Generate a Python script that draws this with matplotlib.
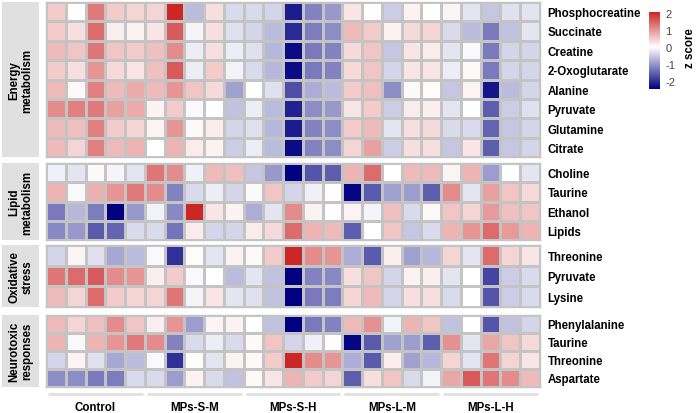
import numpy as np
import matplotlib
matplotlib.use('Agg')
import matplotlib.pyplot as plt
from matplotlib.colors import LinearSegmentedColormap, Normalize
from matplotlib.patches import Rectangle
from matplotlib.cm import ScalarMappable

plt.rcParams['font.family'] = ['Liberation Sans', 'DejaVu Sans']

# groups / columns
groups = ['Control', 'MPs-S-M', 'MPs-S-H', 'MPs-L-M', 'MPs-L-H']
reps = 5

# panel names and row labels
panel_names = ['Energy\nmetabolism', 'Lipid\nmetabolism', 'Oxidative\nstress', 'Neurotoxic\nresponses']
energy_rows = ['Phosphocreatine', 'Succinate', 'Creatine', '2-Oxoglutarate',
               'Alanine', 'Pyruvate', 'Glutamine', 'Citrate']
lipid_rows = ['Choline', 'Taurine', 'Ethanol', 'Lipids']
oxid_rows = ['Threonine', 'Pyruvate', 'Lysine']
neuro_rows = ['Phenylalanine', 'Taurine', 'Threonine', 'Aspartate']

# z scores
energy_z = [
    [0.5, 0.0, 1.25, 0.5, 0.4, 0.4, 2.05, -0.65, 0.3, -0.35, -0.35, -0.4, -2.2, -1.2, -1.0, 0.25, 0.02, -0.5, 0.12, 0.0, 0.1, -0.25, -0.55, -0.3, -0.27],
    [0.5, 0.3, 1.4, 0.15, 0.12, 0.25, 1.55, -0.1, 0.3, -0.3, -0.4, -0.65, -2.05, -1.25, -1.1, 0.65, 0.5, 0.12, 0.35, 0.4, -0.35, -0.65, -1.3, -0.6, -0.25],
    [0.65, 0.55, 1.3, 0.55, 0.5, 0.6, 1.1, -0.18, 0.3, -0.18, -0.3, -0.7, -2.35, -1.3, -1.2, 0.35, 0.55, -0.55, 0.25, 0.18, -0.25, -0.06, -1.3, -0.4, -0.4],
    [0.5, 0.3, 1.0, 0.35, 0.25, 0.6, 1.55, -0.18, 0.5, -0.12, -0.35, -0.7, -2.35, -1.3, -1.2, 0.35, 0.55, -0.4, 0.25, 0.25, -0.18, 0.06, -1.3, -0.4, -0.4],
    [0.65, 0.06, 1.2, 0.65, 0.8, 0.65, 1.0, 0.55, 0.35, -0.9, 0.0, -0.3, -1.7, -0.8, -0.65, 0.5, 0.6, -1.1, 0.06, 0.04, -0.55, 0.1, -2.25, -0.65, -0.4],
    [1.1, 1.2, 1.25, 0.9, 0.8, 0.1, 0.5, -0.06, 0.0, -0.6, -0.18, -0.65, -2.15, -1.1, -1.0, 0.25, 0.5, -0.5, 0.18, 0.15, -0.25, 0.0, -1.55, -0.5, -0.3],
    [0.65, 0.6, 1.2, 0.5, 0.4, 0.1, 1.0, 0.06, 0.18, -0.4, -0.3, -0.7, -2.2, -1.2, -1.1, 0.5, 0.65, -0.25, 0.3, 0.35, -0.35, -0.35, -1.5, -0.55, -0.4],
    [0.65, 0.4, 1.2, 0.65, 0.7, 0.0, 0.7, 0.18, 0.12, -0.5, -0.18, -0.65, -2.35, -1.2, -1.1, 0.4, 0.9, -0.5, 0.3, 0.3, -0.55, 0.25, -1.55, -0.55, -0.4],
]
lipid_z = [
    [-0.15, -0.25, 0.06, -0.1, -0.25, 1.3, 1.1, -0.15, 0.65, 0.6, -0.55, -1.0, -2.45, -1.65, -1.55, 0.7, 1.4, 0.0, 0.65, 0.65, 0.1, 0.7, -0.95, 0.0, -0.25],
    [0.7, -0.06, 0.75, 1.0, 1.25, 1.1, -1.2, -0.35, -0.18, -0.4, 0.06, 0.55, -0.4, -0.15, 0.02, -2.4, -1.6, -0.9, -0.95, -1.55, 1.1, -0.25, 0.9, 0.55, 0.35],
    [-1.3, -0.7, -1.25, -2.45, -1.0, -0.12, -1.15, 2.06, 0.25, 0.12, -0.8, -0.25, 1.1, 0.12, 0.02, 0.1, -0.1, 0.6, -0.35, 0.06, 0.55, 0.4, 0.95, 0.6, 0.55],
    [-1.15, -1.0, -1.6, -1.5, -0.35, -0.35, -1.35, 0.18, -0.4, -0.4, 0.18, 0.35, 1.4, 0.7, 0.65, -1.55, 0.0, 0.55, -0.55, -0.35, 0.7, 1.0, 1.4, 0.95, 0.7],
]
oxid_z = [
    [-0.4, 0.1, -0.3, -0.85, -0.65, -0.06, -2.0, 0.04, -0.25, 0.12, 0.06, 0.5, 2.06, 1.1, 1.0, -0.8, -1.6, 0.15, -0.9, -0.7, 0.4, -0.25, 1.4, 0.4, 0.25],
    [1.3, 1.4, 1.55, 1.1, 1.0, 0.15, 0.5, -0.06, 0.0, -0.65, -0.25, -0.6, -2.45, -1.2, -1.15, 0.3, 0.55, -0.4, 0.12, 0.15, -0.25, 0.0, -1.8, -0.5, -0.35],
    [0.65, 0.4, 1.4, 0.5, 0.4, 0.4, 1.3, -0.1, 0.25, -0.25, -0.3, -0.6, -2.47, -1.3, -1.25, 0.4, 0.65, -0.4, 0.3, 0.3, -0.35, 0.0, -1.65, -0.5, -0.35],
]
neuro_z = [
    [0.65, 0.4, 0.6, 1.1, 0.55, 0.15, 1.0, -0.95, 0.1, 0.12, 0.0, -0.6, -2.47, -1.3, -1.2, 0.65, 1.05, -0.12, 0.7, 0.55, -0.6, 0.0, -1.65, -0.6, -0.4],
    [0.7, -0.06, 0.7, 1.0, 1.25, 1.1, -1.2, -0.35, -0.18, -0.35, 0.06, 0.55, -0.4, -0.15, 0.02, -2.4, -1.6, -0.9, -0.95, -1.55, 1.05, -0.25, 0.85, 0.55, 0.35],
    [-0.4, 0.1, -0.3, -0.85, -0.65, -0.06, -2.0, 0.04, -0.25, 0.12, 0.06, 0.5, 2.06, 1.1, 1.0, -0.8, -1.6, 0.15, -0.9, -0.7, 0.4, -0.25, 1.3, 0.4, 0.25],
    [-1.1, -1.1, -1.3, -1.25, -0.35, -0.35, -0.95, 0.12, -0.35, -0.6, 0.06, 0.25, 0.7, 0.5, 0.4, -1.55, 0.3, 0.55, -0.35, -0.12, 0.85, 1.55, 1.3, 1.1, 0.65],
]

cb_ticks = [2, 1, 0, -1, -2]
zmin, zmax = -2.47, 2.06

W, H = 697, 414
fig = plt.figure(figsize=(W / 100, H / 100), dpi=100)

def px(x0, y0, x1, y1):
    # pixel box (top-left origin) -> figure rect
    return [x0 / W, 1 - y1 / H, (x1 - x0) / W, (y1 - y0) / H]

wpos = -zmin / (zmax - zmin)
cmap = LinearSegmentedColormap.from_list('nwf', [(0, '#000080'), (wpos, '#ffffff'), (1, '#cd2626')])
norm = Normalize(zmin, zmax)

hm_left, hm_right = 46, 540
panel_y = [(2.7, 158.3), (164.3, 240.7), (245.7, 308.3), (315.7, 387.7)]
panels = [(energy_z, energy_rows), (lipid_z, lipid_rows), (oxid_z, oxid_rows), (neuro_z, neuro_rows)]
grid = '#c4c4c4'
ncol = len(groups) * reps

for (vals, rows), (y0, y1), pname in zip(panels, panel_y, panel_names):
    ax = fig.add_axes(px(hm_left, y0, hm_right, y1))
    z = np.array(vals)
    ax.pcolormesh(z, cmap=cmap, norm=norm, edgecolors=grid, linewidth=0.8)
    ax.set_xlim(0, ncol)
    ax.set_ylim(len(rows), 0)
    for s in ax.spines.values():
        s.set_color(grid)
        s.set_linewidth(1.0)
    ax.set_xticks([])
    ax.yaxis.tick_right()
    ax.set_yticks(np.arange(len(rows)) + 0.5)
    ax.set_yticklabels(rows, fontsize=8.3, fontweight='bold')
    ax.tick_params(axis='y', length=0, pad=5.5)
    # grey side box with group name
    fig.add_artist(Rectangle((2 / W, 1 - y1 / H), 37 / W, (y1 - y0) / H,
                             transform=fig.transFigure, facecolor='#e0e0e0', edgecolor='none'))
    fig.text(21 / W, 1 - (y0 + y1) / 2 / H, pname, rotation=90, ha='center', va='center',
             fontsize=8.3, fontweight='bold', linespacing=1.1)

# group bars and labels
axg = fig.add_axes(px(hm_left, 390, hm_right, 414))
axg.set_xlim(0, ncol)
axg.set_ylim(24, 0)
axg.axis('off')
for i, g in enumerate(groups):
    axg.plot([i * reps + 0.1, (i + 1) * reps - 0.1], [5, 5], color='#e0e0e0', lw=2, solid_capstyle='butt')
    axg.text(i * reps + reps / 2, 18, g, ha='center', va='center', fontsize=8.3, fontweight='bold')

# colorbar
cax = fig.add_axes(px(649, 13, 660, 90))
cb = fig.colorbar(ScalarMappable(norm=norm, cmap=cmap), cax=cax)
cb.outline.set_visible(False)
cb.set_ticks(cb_ticks)
cb.set_ticklabels([str(t) for t in cb_ticks])
cax.tick_params(length=0, pad=4, labelsize=8, labelcolor='#444444')
fig.text(690 / W, 1 - 48 / H, 'z score', rotation=90, ha='center', va='center',
         fontsize=8.3, fontweight='bold')

fig.savefig('out.png', dpi=100)
